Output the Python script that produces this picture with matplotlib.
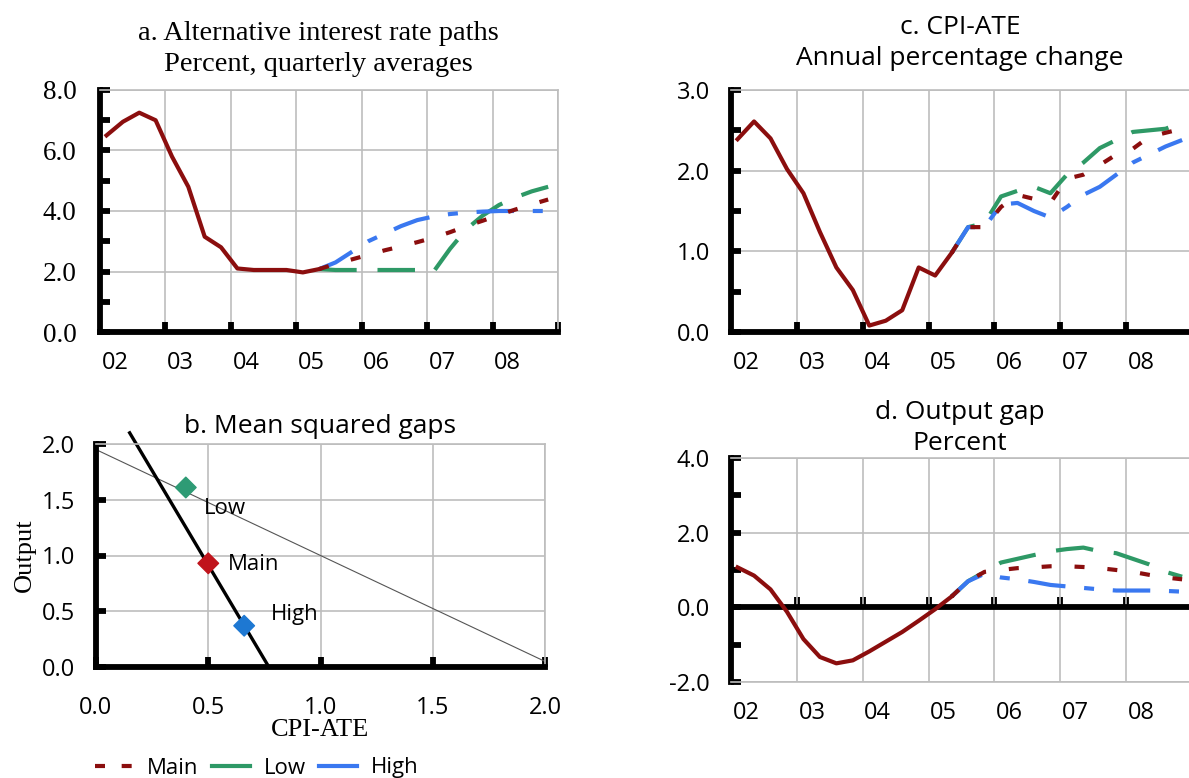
import numpy as np
import matplotlib.pyplot as plt
from matplotlib.lines import Line2D

# quarterly data, 2002Q1 .. 2008Q4
quarters = np.arange(28)
year_labels = ['02', '03', '04', '05', '06', '07', '08']

# a. interest rate (history up to 2005Q2, then paths)
rate_hist = [6.5, 6.95, 7.25, 7.0, 5.8, 4.8, 3.15, 2.8, 2.1, 2.05, 2.05, 2.05, 1.97, 2.08]
rate_main = [2.08, 2.25, 2.4, 2.55, 2.7, 2.83, 2.97, 3.12, 3.3, 3.5, 3.68, 3.87, 4.05, 4.22, 4.38]
rate_low = [2.08, 2.05, 2.05, 2.05, 2.05, 2.05, 2.05, 2.0, 2.75, 3.4, 3.85, 4.2, 4.45, 4.65, 4.8]
rate_high = [2.08, 2.3, 2.65, 3.0, 3.25, 3.5, 3.7, 3.82, 3.9, 3.95, 3.98, 4.0, 4.0, 4.0, 4.0]

# c. CPI-ATE
cpi_hist = [2.39, 2.61, 2.4, 2.02, 1.72, 1.24, 0.8, 0.52, 0.08, 0.14, 0.27, 0.8, 0.7, 0.98]
cpi_main = [0.98, 1.3, 1.3, 1.55, 1.7, 1.65, 1.6, 1.9, 1.95, 2.07, 2.2, 2.27, 2.42, 2.47, 2.52]
cpi_low = [0.98, 1.3, 1.35, 1.68, 1.75, 1.8, 1.72, 1.95, 2.1, 2.28, 2.38, 2.48, 2.5, 2.52, 2.6]
cpi_high = [0.98, 1.3, 1.3, 1.58, 1.6, 1.5, 1.42, 1.55, 1.7, 1.8, 1.95, 2.1, 2.2, 2.3, 2.38]

# d. output gap
gap_hist = [1.07, 0.85, 0.48, -0.12, -0.85, -1.33, -1.5, -1.42, -1.18, -0.92, -0.66, -0.36, -0.05, 0.29]
gap_main = [0.29, 0.7, 0.95, 1.0, 1.05, 1.07, 1.1, 1.1, 1.08, 1.05, 1.0, 0.95, 0.87, 0.8, 0.75]
gap_low = [0.29, 0.7, 0.95, 1.2, 1.3, 1.4, 1.5, 1.56, 1.6, 1.5, 1.45, 1.3, 1.15, 0.95, 0.82]
gap_high = [0.29, 0.7, 0.9, 0.8, 0.75, 0.68, 0.6, 0.56, 0.52, 0.48, 0.45, 0.45, 0.45, 0.44, 0.42]

# b. mean squared gaps
scen_names = ['Low', 'Main', 'High']
msg_cpi = [0.40, 0.50, 0.66]
msg_output = [1.61, 0.93, 0.37]
frontier_x = [0.15, 0.77]
frontier_y = [2.1, 0.0]
iso_x = [0.0, 2.0]
iso_y = [1.95, 0.05]

RED = '#8B0E0E'
GREEN = '#2E9966'
BLUE = '#3A78F0'
GRID = '#BDBDBD'
SANS = 'Open Sans'
SERIF = 'Liberation Serif'
LW = 3.0
SPW = 4.2

x = 2002.1 + 0.25 * quarters
xf = x[13:]

fig = plt.figure(figsize=(11.89, 7.78), dpi=100)
ax_a = fig.add_axes([100/1189, 1 - 332/778, 458/1189, 242/778])
ax_c = fig.add_axes([731/1189, 1 - 332/778, 461/1189, 242/778])
ax_b = fig.add_axes([96/1189, 1 - 667/778, 449/1189, 223/778])
ax_d = fig.add_axes([731/1189, 1 - 682/778, 461/1189, 224/778])


def style_spines(ax):
    for s in ['left', 'bottom']:
        ax.spines[s].set_linewidth(SPW)
        ax.spines[s].set_color('black')
    for s in ['top', 'right']:
        ax.spines[s].set_linewidth(1.2)
        ax.spines[s].set_color(GRID)
    ax.grid(True, which='major', color=GRID, lw=1.2)
    ax.set_axisbelow(True)


def time_axis(ax, ymajor, yminor, serif_y=False):
    ax.set_xlim(2002, 2009)
    ax.set_xticks(np.arange(2003, 2010), labels=[])
    ax.set_xticks(np.arange(2002, 2009) + 0.23, labels=year_labels, minor=True)
    ax.tick_params(axis='x', which='minor', length=0, pad=14)
    ax.tick_params(axis='x', which='major', direction='in', length=7, width=SPW)
    ax.set_yticks(ymajor, labels=['%.1f' % v for v in ymajor])
    ax.set_yticks(yminor, minor=True)
    ax.tick_params(axis='y', which='both', direction='in', length=7, width=SPW,
                   pad=17 if serif_y else 15)
    for lab in ax.get_xticklabels(minor=True):
        lab.set_fontfamily(SANS)
        lab.set_fontsize(17)
    for lab in ax.get_yticklabels():
        lab.set_fontfamily(SERIF if serif_y else SANS)
        lab.set_fontsize(19.5 if serif_y else 17)
    style_spines(ax)


def paths(ax, hist, main, low, high):
    ax.plot(xf, low, color=GREEN, lw=LW, dashes=(9, 5))
    ax.plot(xf, high, color=BLUE, lw=LW, dashes=(9, 4.5, 2.4, 4.5))
    ax.plot(xf, main, color=RED, lw=LW, dashes=(2.4, 5.5))
    ax.plot(x[:14], hist, color=RED, lw=LW)


# a
paths(ax_a, rate_hist, rate_main, rate_low, rate_high)
ax_a.set_ylim(0, 8)
time_axis(ax_a, [0, 2, 4, 6, 8], [1, 3, 5, 7], serif_y=True)
ax_a.set_title('a. Alternative interest rate paths\nPercent, quarterly averages',
               family=SERIF, fontsize=20.5, linespacing=1.3, pad=14,
               x=(318 - 100) / 458)

# c
paths(ax_c, cpi_hist, cpi_main, cpi_low, cpi_high)
ax_c.set_ylim(0, 3)
time_axis(ax_c, [0, 1, 2, 3], [0.5, 1.5, 2.5])
ax_c.set_title('c. CPI-ATE\nAnnual percentage change', family=SANS, fontsize=19,
               linespacing=1.3, pad=18, x=(960 - 731) / 461)

# d
paths(ax_d, gap_hist, gap_main, gap_low, gap_high)
ax_d.set_ylim(-2, 4)
time_axis(ax_d, [-2, 0, 2, 4], [-1, 1, 3])
ax_d.spines['bottom'].set_linewidth(1.2)
ax_d.spines['bottom'].set_color(GRID)
ax_d.tick_params(axis='x', which='major', length=0)
ax_d.axhline(0, color='black', lw=SPW, zorder=1.5)
zero = ax_d.secondary_xaxis(1 / 3)
zero.spines['bottom'].set_visible(False)
zero.set_xticks(np.arange(2003, 2010), labels=[])
zero.tick_params(direction='in', length=7, width=SPW)
ax_d.set_title('d. Output gap\nPercent', family=SANS, fontsize=19,
               linespacing=1.3, pad=6, x=(960 - 731) / 461)

# b
ax_b.plot(iso_x, iso_y, color='#555555', lw=0.8)
ax_b.plot(frontier_x, frontier_y, color='black', lw=2.4, clip_on=False)
ax_b.scatter(msg_cpi, msg_output, marker='D', s=110,
             c=['#2E9B75', '#C0141C', '#1E78D2'], zorder=5, clip_on=False)
label_dx = [0.08, 0.086, 0.117]
label_dy = [-0.19, -0.015, 0.105]
for name, cx, cy, dx, dy in zip(scen_names, msg_cpi, msg_output, label_dx, label_dy):
    ax_b.text(cx + dx, cy + dy, name, family=SANS, fontsize=16, va='center', ha='left')
ax_b.set_xlim(0, 2)
ax_b.set_ylim(0, 2)
ticks_b = [0, 0.5, 1.0, 1.5, 2.0]
ax_b.set_xticks(ticks_b, labels=['%.1f' % v for v in ticks_b])
ax_b.set_yticks(ticks_b, labels=['%.1f' % v for v in ticks_b])
ax_b.tick_params(axis='both', direction='in', length=7, width=SPW)
ax_b.tick_params(axis='x', pad=21)
ax_b.tick_params(axis='y', pad=15)
for lab in ax_b.get_xticklabels() + ax_b.get_yticklabels():
    lab.set_fontfamily(SANS)
    lab.set_fontsize(17)
style_spines(ax_b)
ax_b.set_xlabel('CPI-ATE', family=SERIF, fontsize=19, labelpad=-1)
ax_b.set_ylabel('Output', family=SERIF, fontsize=19, labelpad=4)
ax_b.set_title('b. Mean squared gaps', family=SANS, fontsize=19, pad=8)

handles = [Line2D([], [], color=RED, lw=LW, dashes=(2.4, 4)),
           Line2D([], [], color=GREEN, lw=LW),
           Line2D([], [], color=BLUE, lw=LW)]
fig.legend(handles, ['Main', 'Low', 'High'], loc='center',
           bbox_to_anchor=(257/1189, 1 - 768/778),
           ncol=3, frameon=False, prop={'family': SANS, 'size': 16},
           handlelength=1.7, columnspacing=0.6, handletextpad=0.64,
           borderpad=0, borderaxespad=0)

fig.savefig('out.png', dpi=100)
